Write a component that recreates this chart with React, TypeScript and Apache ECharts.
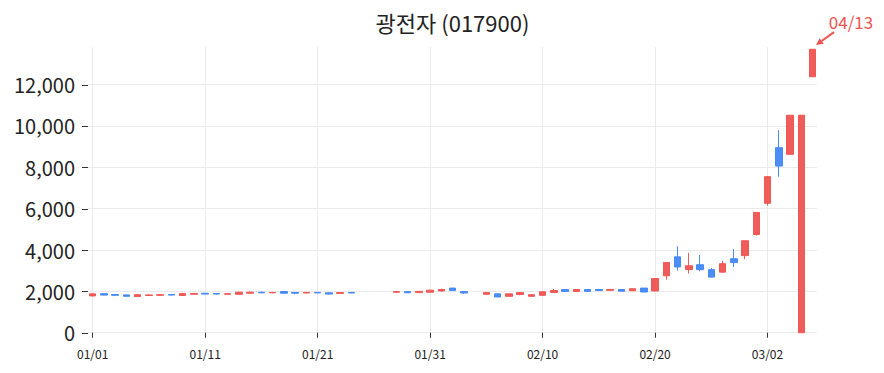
import React, { useEffect, useRef } from 'react';
import * as echarts from 'echarts';

const chartTitle = '광전자 (017900)';
const annotationText = '04/13';

const dates = [
  '01/01', '01/02', '01/03', '01/04', '01/05', '01/06', '01/07', '01/08', '01/09', '01/10',
  '01/11', '01/12', '01/13', '01/14', '01/15', '01/16', '01/17', '01/18', '01/19', '01/20',
  '01/21', '01/22', '01/23', '01/24', '01/28', '01/29', '01/30', '01/31', '02/01', '02/02',
  '02/03', '02/05', '02/06', '02/07', '02/08', '02/09', '02/10', '02/11', '02/12', '02/13',
  '02/14', '02/15', '02/16', '02/17', '02/18', '02/19', '02/20', '02/21', '02/22', '02/23',
  '02/24', '02/25', '02/26', '02/27', '02/28', '03/01', '03/02', '03/03', '03/04', '03/05',
  '03/06',
];
const opens = [
  1780, 1890, 1850, 1830, 1750, 1800, 1810, 1850, 1800, 1860,
  1910, 1900, 1860, 1860, 1910, 1960, 1930, 1990, 1950, 1920,
  1950, 1930, 1900, 1950, 1960, 1990, 1940, 1960, 2020, 2160,
  1990, 1860, 1880, 1760, 1850, 1760, 1810, 1950, 2090, 2000,
  2090, 2090, 2050, 2090, 2030, 2160, 2020, 2750, 3670, 3060,
  3290, 3050, 2930, 3580, 3730, 4750, 6260, 8950, 8630, 0,
  12380,
];
const closes = [
  1880, 1820, 1810, 1760, 1840, 1830, 1840, 1820, 1900, 1900,
  1870, 1870, 1890, 1960, 1960, 1930, 1950, 1910, 1910, 1950,
  1925, 1870, 1940, 1920, 1990, 1930, 2000, 2060, 2090, 2040,
  1920, 1940, 1730, 1880, 1940, 1840, 1980, 2040, 2000, 2090,
  2000, 2040, 2090, 2010, 2130, 1970, 2620, 3400, 3180, 3240,
  3050, 2690, 3340, 3400, 4450, 5820, 7550, 8060, 10520, 10520,
  13710,
];
const lows = [
  1760, 1810, 1770, 1750, 1740, 1780, 1790, 1810, 1790, 1850,
  1860, 1850, 1850, 1850, 1900, 1920, 1910, 1900, 1860, 1910,
  1910, 1860, 1880, 1910, 1940, 1920, 1930, 1950, 2000, 2030,
  1880, 1850, 1720, 1750, 1810, 1750, 1800, 1940, 1990, 1990,
  1990, 2020, 2040, 2000, 2020, 1960, 2000, 2560, 3000, 2860,
  2970, 2680, 2900, 3180, 3560, 4700, 6150, 7550, 8600, 0,
  12370,
];
const highs = [
  1890, 1900, 1860, 1840, 1850, 1850, 1850, 1860, 1910, 1910,
  1920, 1910, 1900, 1980, 1990, 1980, 1960, 2000, 1960, 1960,
  1960, 1940, 1950, 1960, 2000, 2000, 2020, 2070, 2130, 2170,
  2000, 1950, 1890, 1890, 1950, 1870, 1990, 2120, 2100, 2100,
  2100, 2120, 2120, 2100, 2140, 2170, 2630, 3410, 4180, 3860,
  3760, 3130, 3470, 4050, 4460, 5830, 7560, 9800, 10530, 10520,
  13720,
];
const xTickLabels = ['01/01', '01/11', '01/21', '01/31', '02/10', '02/20', '03/02'];
const yTickValues = [0, 2000, 4000, 6000, 8000, 10000, 12000];

const monthStart = [0, 31, 59, 90, 120, 151, 181, 212, 243, 273, 304, 334];
const dayIndex = (md: string) => {
  const [m, d] = md.split('/').map(Number);
  return monthStart[m - 1] + d - 1;
};
const dayLabel = (idx: number) => {
  let m = 0;
  while (m < 11 && monthStart[m + 1] <= idx) m++;
  const d = idx - monthStart[m] + 1;
  return String(m + 1).padStart(2, '0') + '/' + String(d).padStart(2, '0');
};

const FONT = '"Noto Sans CJK KR", "Noto Sans", sans-serif';
const UP = '#EF5350';
const DOWN = '#4287F5';
const GRID = '#ebebeb';

export default function App() {
  const ref = useRef<HTMLDivElement>(null);
  useEffect(() => {
    if (!ref.current) return;
    const chart = echarts.init(ref.current, null, { renderer: 'svg' });
    const data = dates.map((d, i) => [dayIndex(d), opens[i], closes[i], lows[i], highs[i]]);
    const xTicks = xTickLabels.map(dayIndex);
    const xMin = -0.42;
    const xMax = 64.4;
    chart.setOption({
      animation: false,
      grid: { left: 88, right: 67, top: 47, bottom: 38 },
      xAxis: {
        type: 'value',
        min: xMin,
        max: xMax,
        axisLine: { show: false },
        splitLine: { show: false },
        axisTick: { show: true, length: 5, customValues: xTicks, lineStyle: { color: '#333', width: 1 } },
        axisLabel: {
          customValues: xTicks,
          formatter: (v: number) => dayLabel(Math.round(v)),
          fontFamily: FONT,
          fontSize: 12,
          color: '#222',
          margin: 12,
        },
      },
      yAxis: {
        type: 'value',
        min: -110,
        max: 13820,
        axisLine: { show: false },
        splitLine: { show: false },
        axisTick: { show: false },
        axisLabel: {
          customValues: yTickValues,
          formatter: (v: number) => Math.round(v).toLocaleString('en-US'),
          fontFamily: FONT,
          fontSize: 20,
          color: '#222',
          margin: 13,
        },
      },
      series: [
        {
          type: 'line',
          data: [],
          silent: true,
          markLine: {
            silent: true,
            symbol: ['none', 'none'],
            label: { show: false },
            z: 0,
            lineStyle: { color: GRID, type: 'solid', width: 1 },
            emphasis: { disabled: true },
            data: [
              ...xTicks.map((v) => ({ xAxis: v })),
              ...yTickValues.map((v) => ({ yAxis: v })),
            ],
          },
        },
        {
          type: 'candlestick',
          z: 3,
          barWidth: 7,
          encode: { x: 0, y: [1, 2, 3, 4] },
          data,
          itemStyle: {
            color: UP,
            color0: DOWN,
            borderColor: UP,
            borderColor0: DOWN,
            borderWidth: 1,
            opacity: 0.95,
          },
        },
      ],
    });

    // y-axis outside tick marks, positioned through the axis scale
    const yTickGraphics = yTickValues.map((v) => {
      const p = chart.convertToPixel({ gridIndex: 0 }, [xMin, v]) as number[];
      const y = Math.round(p[1]) + 0.5;
      return {
        type: 'line',
        silent: true,
        shape: { x1: p[0] - 6, y1: y, x2: p[0], y2: y },
        style: { stroke: '#333', lineWidth: 1 },
      };
    });

    const lastIdx = dates.length - 1;
    const pt = chart.convertToPixel({ gridIndex: 0 }, [dayIndex(dates[lastIdx]), highs[lastIdx]]) as number[];
    const tip = [pt[0] + 3.5, pt[1] - 4];
    const tail = [pt[0] + 21.5, pt[1] - 17];
    const dx = tip[0] - tail[0];
    const dy = tip[1] - tail[1];
    const len = Math.sqrt(dx * dx + dy * dy);
    const ux = dx / len;
    const uy = dy / len;
    const hl = 7;
    const hw = 3.5;
    const base = [tip[0] - ux * hl, tip[1] - uy * hl];
    chart.setOption({
      graphic: [
        ...yTickGraphics,
        {
          type: 'text',
          x: 452.5,
          y: 22,
          style: {
            text: chartTitle,
            fontFamily: FONT,
            fontSize: 22,
            fill: '#222',
            textAlign: 'center',
            textVerticalAlign: 'middle',
          },
        },
        {
          type: 'line',
          shape: { x1: tail[0], y1: tail[1], x2: base[0], y2: base[1] },
          style: { stroke: UP, lineWidth: 2 },
        },
        {
          type: 'polygon',
          shape: {
            points: [
              tip,
              [base[0] - uy * hw, base[1] + ux * hw],
              [base[0] + uy * hw, base[1] - ux * hw],
            ],
          },
          style: { fill: UP },
        },
        {
          type: 'text',
          x: pt[0] + 38.5,
          y: pt[1] - 28,
          style: {
            text: annotationText,
            fontFamily: FONT,
            fontSize: 17,
            fill: UP,
            textAlign: 'center',
            textVerticalAlign: 'middle',
          },
        },
      ],
    });
    return () => chart.dispose();
  }, []);
  return (
    <div
      ref={ref}
      style={{ position: 'absolute', left: 0, top: 0, width: 884, height: 373 }}
    />
  );
}
